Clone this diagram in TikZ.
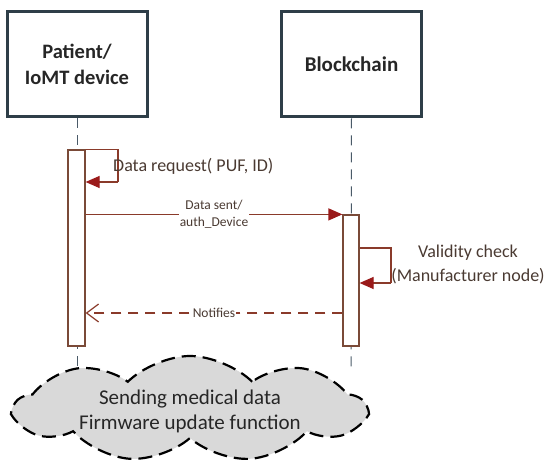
\documentclass[tikz,border=0pt]{standalone}
\usepackage{fontspec}
\setmainfont{Carlito}
\usetikzlibrary{arrows.meta,shapes.symbols}

\definecolor{boxline}{HTML}{2E3E48}
\definecolor{lifecol}{HTML}{4A5A68}
\definecolor{barline}{HTML}{7A4A38}
\definecolor{msgline}{HTML}{8A3A2A}
\definecolor{arrowred}{HTML}{9A1A1A}
\definecolor{msgtext}{HTML}{4A3A32}
\definecolor{cloudfill}{HTML}{D9D9D9}

\tikzset{
  actor/.style={draw=boxline, line width=3pt, fill=white, minimum width=140pt,
    minimum height=105pt, align=center, font=\fontsize{20.5}{26}\selectfont\bfseries,
    text=black!85},
  lifeline/.style={draw=lifecol, line width=1pt, dash pattern=on 10pt off 7pt},
  actbar/.style={draw=barline, line width=1.2pt, fill=white, inner sep=0pt},
  msg/.style={draw=msgline, line width=1.2pt},
  sendtip/.style={-{Triangle[length=14pt,width=12pt,color=arrowred]}},
  backtip/.style={-{Straight Barb[length=12pt,width=18pt,color=msgline]}},
  msglabel/.style={fill=white, inner sep=1pt, text=msgtext, align=center,
    font=\fontsize{13.5}{17}\selectfont},
  selflabel/.style={text=msgtext, align=center, inner sep=0pt,
    font=\fontsize{18}{24}\selectfont}
}

\begin{document}
\begin{tikzpicture}[x=1pt,y=-1pt]
\useasboundingbox (0,0) rectangle (550,473);

% Acteurs
\node[actor] (patient) at (77,64.5) {Patient/\\IoMT device};
\node[actor, font=\fontsize{21}{26}\selectfont\bfseries] (chain) at (351.5,64.5) {Blockchain};

% Lignes de vie
\coordinate (patend) at (77,368);
\coordinate (chainend) at (351,368);
\draw[lifeline] (patient.south) -- (patend);
\draw[lifeline] (chain.south) -- (chainend);

% Barres d'activation
\node[actbar, minimum width=17pt, minimum height=196pt] (patbar) at (76.5,248) {};
\node[actbar, minimum width=16pt, minimum height=131pt] (chainbar) at (351,280.5) {};

% Appel interne : requete
\coordinate (reqturn) at (118,182);
\draw[msg] (patbar.north east) -| (reqturn);
\draw[msg, sendtip] (reqturn) -- (patbar.east |- reqturn);
\node[selflabel, anchor=west] (reqlabel) at (113,166) {Data request( PUF, ID)};

% Message : envoi des donnees
\draw[msg, sendtip] (patbar.east |- chainbar.north) -- (chainbar.north west)
  node[msglabel, midway] (sentlabel) {Data sent/\\auth\_Device};

% Appel interne : verification
\coordinate (checkstart) at (359,248);
\coordinate (checkturn) at (391,283);
\draw[msg] (chainbar.east |- checkstart) -| (checkturn);
\draw[msg, sendtip] (checkturn) -- (chainbar.east |- checkturn);
\node[selflabel] (checklabel) at (468,265) {Validity check\\(Manufacturer node)};

% Retour : notification
\coordinate (notify) at (0,313);
\draw[msg, backtip, dash pattern=on 10pt off 7pt] (chainbar.west |- notify) -- (patbar.east |- notify)
  node[msglabel, midway] (notiflabel) {Notifies};

% Nuage
\node[cloud, cloud puffs=9, cloud puff arc=90, aspect=3.3, draw=black, fill=cloudfill,
  line width=2.2pt, dash pattern=on 14pt off 7pt, minimum width=350pt, minimum height=106pt,
  inner sep=0pt] (usecase) at (190,409) {};
\node[align=center, text=black!85, font=\fontsize{21}{25}\selectfont]
  (usetext) at ([yshift=-2pt]usecase.center) {Sending medical data\\Firmware update function};

\end{tikzpicture}
\end{document}
